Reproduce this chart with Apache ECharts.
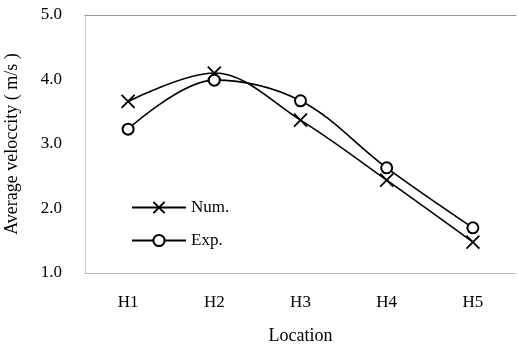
<!DOCTYPE html>
<html><head><meta charset="utf-8">
<script src="https://cdn.jsdelivr.net/npm/echarts@6/dist/echarts.min.js"></script>
<style>html,body{margin:0;padding:0;background:#fff}#c{width:518px;height:344px}</style>
</head><body><div id="c"></div>
<script>
const categories = ['H1','H2','H3','H4','H5'];
const numValues = [3.66, 4.10, 3.37, 2.44, 1.48];
const expValues = [3.23, 3.99, 3.67, 2.63, 1.70];
const yTicks = [1.0, 2.0, 3.0, 4.0, 5.0];
const font = 'Liberation Serif';
const crossPath = 'path://M0,0L10,10M10,0L0,10';
const chart = echarts.init(document.getElementById('c'), null, {renderer:'canvas'});
chart.setOption({
  animation:false,
  backgroundColor:'#fff',
  textStyle:{fontFamily:font, color:'#000'},
  grid:{left:85, right:2, top:15, bottom:71, outerBoundsMode:'none', containLabel:false},
  legend:{
    orient:'vertical', left:126, top:194, itemWidth:54, itemHeight:14, itemGap:16,
    textStyle:{fontFamily:font, fontSize:17, color:'#000'},
    data:['Num.','Exp.']
  },
  xAxis:[{
    type:'category', data:categories, boundaryGap:true,
    name:'Location', nameLocation:'middle', nameGap:54,
    nameTextStyle:{fontFamily:font, fontSize:18, color:'#000'},
    axisLine:{show:true, lineStyle:{color:'#bbb', width:1}},
    axisTick:{show:false},
    axisLabel:{fontFamily:font, fontSize:17, color:'#000', margin:21}
  },{
    type:'category', data:categories, position:'top', boundaryGap:true,
    axisLine:{show:true, lineStyle:{color:'#999', width:1}},
    axisTick:{show:false}, axisLabel:{show:false}
  }],
  yAxis:{
    type:'value', min:yTicks[0], max:yTicks[yTicks.length-1], interval:1,
    name:'Average veloccity ( m/s )', nameLocation:'middle', nameGap:64,
    nameTextStyle:{fontFamily:font, fontSize:18, color:'#000'},
    axisLine:{show:true, lineStyle:{color:'#ccc', width:1}},
    axisTick:{show:false}, splitLine:{show:false},
    axisLabel:{fontFamily:font, fontSize:17, color:'#000', margin:23,
      formatter:v=>v.toFixed(1)}
  },
  series:[{
    name:'Num.', type:'line', data:numValues, smooth:0.35,
    symbol:crossPath, symbolSize:13,
    lineStyle:{color:'#000', width:1.6},
    itemStyle:{color:'#000', borderColor:'#000', borderWidth:1.8}
  },{
    name:'Exp.', type:'line', data:expValues, smooth:0.35,
    symbol:'emptyCircle', symbolSize:11,
    lineStyle:{color:'#000', width:1.6},
    itemStyle:{color:'#000', borderColor:'#000', borderWidth:1.6}
  }]
});
</script></body></html>
